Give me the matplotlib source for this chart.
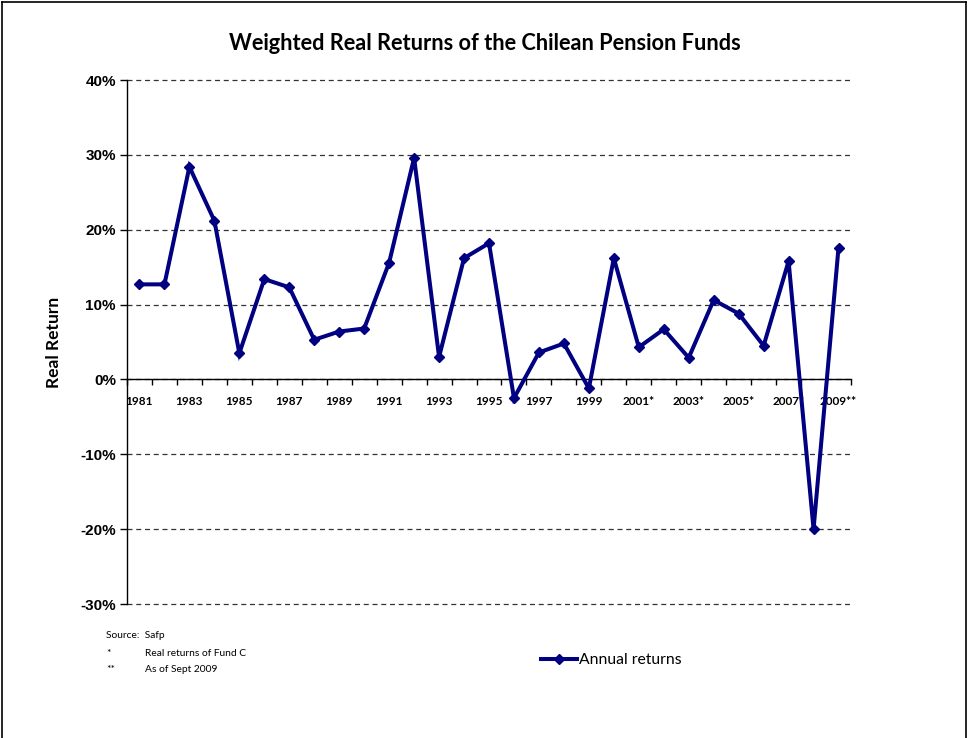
import matplotlib
matplotlib.use("Agg")
import matplotlib.pyplot as plt
from matplotlib.lines import Line2D
from matplotlib.ticker import FixedLocator, FuncFormatter

years = [str(y) for y in range(1981, 2010)]
tick_labels = ["1981", "1983", "1985", "1987", "1989", "1991", "1993", "1995",
               "1997", "1999", "2001*", "2003*", "2005*", "2007*", "2009**"]
returns = [12.7, 12.7, 28.4, 21.2, 3.5, 13.4, 12.3, 5.3, 6.4, 6.8,
           15.6, 29.6, 3.0, 16.2, 18.2, -2.5, 3.6, 4.8, -1.2, 16.2,
           4.3, 6.7, 2.9, 10.6, 8.8, 4.5, 15.8, -20.0, 17.6]
y_ticks = [-30, -20, -10, 0, 10, 20, 30, 40]

NAVY = "#000080"
TFONT = ["Lato", "DejaVu Sans"]

fig = plt.figure(figsize=(9.69, 7.38), dpi=100)
ax = fig.add_axes([127/969, 1-604/738, (851-127)/969, (604-80)/738])

x = list(range(len(years)))
ax.plot(x, returns, color=NAVY, lw=2.9, marker="D", markersize=5,
        markeredgecolor=NAVY, markerfacecolor=NAVY, label="Annual returns",
        solid_joinstyle="miter", zorder=3, clip_on=False)

ax.set_xlim(-0.5, len(years) - 0.5)
ax.set_ylim(-30, 40)

# y axis
ax.set_yticks(y_ticks)
ax.yaxis.set_major_formatter(FuncFormatter(lambda v, p: f"{int(v)}%"))
for lab in ax.get_yticklabels():
    lab.set_fontweight("bold")
    lab.set_fontsize(11)
    lab.set_family(["Liberation Sans", "DejaVu Sans"])
ax.tick_params(axis="y", direction="out", length=5, width=1, pad=3, color="black")
ax.yaxis.grid(True, linestyle=(0, (4, 3)), color="#333333", lw=0.9)
for gl in ax.get_ygridlines():
    gl.set_clip_on(False)
ax.set_axisbelow(True)

# x axis at zero
ax.spines["bottom"].set_position(("data", 0))
ax.spines["top"].set_visible(False)
ax.spines["right"].set_visible(False)
ax.spines["left"].set_linewidth(1)
ax.spines["bottom"].set_linewidth(1)
label_idx = [years.index(t.rstrip("*")) for t in tick_labels]
ax.xaxis.set_major_locator(FixedLocator(label_idx))
ax.set_xticklabels(tick_labels)
ax.xaxis.set_minor_locator(FixedLocator([i - 0.5 for i in range(len(years) + 1)]))
ax.tick_params(axis="x", which="major", length=0, pad=12)
ax.tick_params(axis="x", which="minor", direction="out", length=4, width=1)
for lab in ax.get_xticklabels():
    lab.set_fontweight("bold")
    lab.set_fontsize(8.5)
    lab.set_family(TFONT)

ax.set_ylabel("Real Return", fontsize=12.5, fontweight="bold", family=TFONT)
ax.yaxis.set_label_coords(-65/724, (604-342)/524)

fig.text(0.5, 1-43/738, "Weighted Real Returns of the Chilean Pension Funds",
         ha="center", va="center", fontsize=15.7, fontweight="bold", family=TFONT)

# notes
nf = dict(fontsize=7.4, family=TFONT, va="center", ha="left")
fig.text(106/969, 1-635/738, "Source:  Safp", **nf)
fig.text(106/969, 1-653/738, "*", **nf)
fig.text(145/969, 1-653/738, "Real returns of Fund C", **nf)
fig.text(106/969, 1-670/738, "**", **nf)
fig.text(145/969, 1-670/738, "As of Sept 2009", **nf)

# legend
leg = fig.legend(handles=[Line2D([], [], color=NAVY, lw=2.9, marker="D", markersize=5)],
                 labels=["Annual returns"], loc="center left",
                 bbox_to_anchor=(541/969, 1-660/738), frameon=False,
                 prop={"family": TFONT, "size": 11.3}, handlelength=2.3,
                 handletextpad=0.1, borderaxespad=0, borderpad=0)

# figure border (left, top, right)
for (xs, ys) in [([2/969, 2/969], [0, 1-2/738]),
                 ([2/969, 966/969], [1-2/738, 1-2/738]),
                 ([966/969, 966/969], [0, 1-2/738])]:
    fig.add_artist(Line2D(xs, ys, color="black", lw=1.2, transform=fig.transFigure))

fig.savefig("out.png", dpi=100)
